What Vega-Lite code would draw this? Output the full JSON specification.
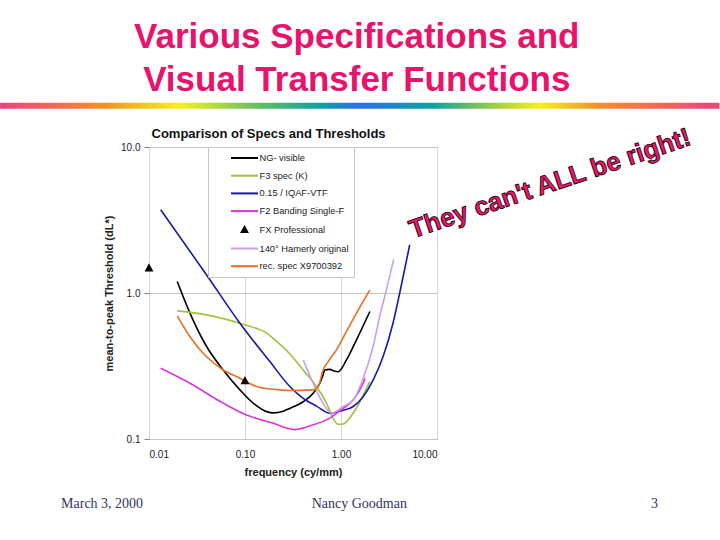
{
  "$schema": "https://vega.github.io/schema/vega-lite/v6.json",
  "width": 288,
  "height": 292,
  "autosize": "none",
  "padding": {"left": 149, "top": 147, "right": 283, "bottom": 101},
  "background": "white",
  "config": {
    "view": {"stroke": "#808080", "strokeWidth": 1},
    "font": "Liberation Sans",
    "legend": {
      "title": null, "orient": "none", "legendX": 59, "legendY": 0, "padding": 5,
      "fillColor": "white", "strokeColor": "#c8c8c8",
      "labelFont": "Liberation Sans", "labelFontSize": 9.3, "labelColor": "#222222",
      "symbolSize": 100, "symbolStrokeWidth": 2, "symbolOffset": 25.5, "labelOffset": 9, "rowPadding": 5.7, "symbolOpacity": 1
    }
  },
  "datasets": {
    "curves": [
      {"series": "NG-   visible", "f": 0.0197, "v": 1.198},
      {"series": "NG-   visible", "f": 0.0267, "v": 0.728},
      {"series": "NG-   visible", "f": 0.0398, "v": 0.430},
      {"series": "NG-   visible", "f": 0.0593, "v": 0.297},
      {"series": "NG-   visible", "f": 0.0885, "v": 0.217},
      {"series": "NG-   visible", "f": 0.1217, "v": 0.176},
      {"series": "NG-   visible", "f": 0.168, "v": 0.154},
      {"series": "NG-   visible", "f": 0.197, "v": 0.151},
      {"series": "NG-   visible", "f": 0.25, "v": 0.155},
      {"series": "NG-   visible", "f": 0.293, "v": 0.162},
      {"series": "NG-   visible", "f": 0.404, "v": 0.180},
      {"series": "NG-   visible", "f": 0.513, "v": 0.206},
      {"series": "NG-   visible", "f": 0.601, "v": 0.241},
      {"series": "NG-   visible", "f": 0.65, "v": 0.275},
      {"series": "NG-   visible", "f": 0.678, "v": 0.297},
      {"series": "NG-   visible", "f": 0.763, "v": 0.300},
      {"series": "NG-   visible", "f": 0.85, "v": 0.292},
      {"series": "NG-   visible", "f": 0.933, "v": 0.289},
      {"series": "NG-   visible", "f": 1.14, "v": 0.348},
      {"series": "NG-   visible", "f": 1.45, "v": 0.478},
      {"series": "NG-   visible", "f": 2.0, "v": 0.747},

      {"series": "F3 spec (K)", "f": 0.0197, "v": 0.754},
      {"series": "F3 spec (K)", "f": 0.0398, "v": 0.708},
      {"series": "F3 spec (K)", "f": 0.0885, "v": 0.621},
      {"series": "F3 spec (K)", "f": 0.1268, "v": 0.577},
      {"series": "F3 spec (K)", "f": 0.1611, "v": 0.5415},
      {"series": "F3 spec (K)", "f": 0.2048, "v": 0.4774},
      {"series": "F3 spec (K)", "f": 0.2933, "v": 0.3826},
      {"series": "F3 spec (K)", "f": 0.4034, "v": 0.2972},
      {"series": "F3 spec (K)", "f": 0.5561, "v": 0.2284},
      {"series": "F3 spec (K)", "f": 0.7066, "v": 0.1757},
      {"series": "F3 spec (K)", "f": 0.8275, "v": 0.1386},
      {"series": "F3 spec (K)", "f": 0.9328, "v": 0.1261},
      {"series": "F3 spec (K)", "f": 1.052, "v": 0.1267},
      {"series": "F3 spec (K)", "f": 1.336, "v": 0.150},
      {"series": "F3 spec (K)", "f": 1.994, "v": 0.247},

      {"series": "0.15 / IQAF-VTF", "f": 0.01324, "v": 3.72},
      {"series": "0.15 / IQAF-VTF", "f": 0.0398, "v": 1.33},
      {"series": "0.15 / IQAF-VTF", "f": 0.0885, "v": 0.621},
      {"series": "0.15 / IQAF-VTF", "f": 0.1815, "v": 0.339},
      {"series": "0.15 / IQAF-VTF", "f": 0.293, "v": 0.229},
      {"series": "0.15 / IQAF-VTF", "f": 0.404, "v": 0.190},
      {"series": "0.15 / IQAF-VTF", "f": 0.556, "v": 0.168},
      {"series": "0.15 / IQAF-VTF", "f": 0.763, "v": 0.150},
      {"series": "0.15 / IQAF-VTF", "f": 1.01, "v": 0.156},
      {"series": "0.15 / IQAF-VTF", "f": 1.34, "v": 0.167},
      {"series": "0.15 / IQAF-VTF", "f": 1.70, "v": 0.195},
      {"series": "0.15 / IQAF-VTF", "f": 2.16, "v": 0.253},
      {"series": "0.15 / IQAF-VTF", "f": 2.74, "v": 0.366},
      {"series": "0.15 / IQAF-VTF", "f": 3.48, "v": 0.621},
      {"series": "0.15 / IQAF-VTF", "f": 4.09, "v": 1.0},
      {"series": "0.15 / IQAF-VTF", "f": 5.2, "v": 2.14},

      {"series": "F2 Banding Single-F", "f": 0.01324, "v": 0.305},
      {"series": "F2 Banding Single-F", "f": 0.0267, "v": 0.241},
      {"series": "F2 Banding Single-F", "f": 0.0593, "v": 0.176},
      {"series": "F2 Banding Single-F", "f": 0.104, "v": 0.146},
      {"series": "F2 Banding Single-F", "f": 0.19, "v": 0.129},
      {"series": "F2 Banding Single-F", "f": 0.33, "v": 0.116},
      {"series": "F2 Banding Single-F", "f": 0.513, "v": 0.125},
      {"series": "F2 Banding Single-F", "f": 0.763, "v": 0.139},
      {"series": "F2 Banding Single-F", "f": 1.05, "v": 0.162},
      {"series": "F2 Banding Single-F", "f": 1.34, "v": 0.185},
      {"series": "F2 Banding Single-F", "f": 1.70, "v": 0.241},
      {"series": "F2 Banding Single-F", "f": 1.78, "v": 0.26},

      {"series": "140° Hamerly original", "f": 0.404, "v": 0.348},
      {"series": "140° Hamerly original", "f": 0.513, "v": 0.241},
      {"series": "140° Hamerly original", "f": 0.65, "v": 0.176},
      {"series": "140° Hamerly original", "f": 0.796, "v": 0.150},
      {"series": "140° Hamerly original", "f": 1.05, "v": 0.167},
      {"series": "140° Hamerly original", "f": 1.34, "v": 0.185},
      {"series": "140° Hamerly original", "f": 1.70, "v": 0.26},
      {"series": "140° Hamerly original", "f": 2.16, "v": 0.43},
      {"series": "140° Hamerly original", "f": 2.53, "v": 0.69},
      {"series": "140° Hamerly original", "f": 2.97, "v": 1.05},
      {"series": "140° Hamerly original", "f": 3.54, "v": 1.70},

      {"series": "rec. spec X9700392", "f": 0.0197, "v": 0.697},
      {"series": "rec. spec X9700392", "f": 0.0267, "v": 0.502},
      {"series": "rec. spec X9700392", "f": 0.0398, "v": 0.366},
      {"series": "rec. spec X9700392", "f": 0.0593, "v": 0.297},
      {"series": "rec. spec X9700392", "f": 0.0885, "v": 0.261},
      {"series": "rec. spec X9700392", "f": 0.132, "v": 0.229},
      {"series": "rec. spec X9700392", "f": 0.197, "v": 0.219},
      {"series": "rec. spec X9700392", "f": 0.293, "v": 0.215},
      {"series": "rec. spec X9700392", "f": 0.513, "v": 0.217},
      {"series": "rec. spec X9700392", "f": 0.58, "v": 0.229},
      {"series": "rec. spec X9700392", "f": 0.65, "v": 0.297},
      {"series": "rec. spec X9700392", "f": 0.735, "v": 0.339},
      {"series": "rec. spec X9700392", "f": 0.898, "v": 0.408},
      {"series": "rec. spec X9700392", "f": 1.14, "v": 0.545},
      {"series": "rec. spec X9700392", "f": 1.45, "v": 0.728},
      {"series": "rec. spec X9700392", "f": 2.0, "v": 1.05}
    ],
    "fx": [
      {"series": "FX Professional", "f": 0.01, "v": 1.48},
      {"series": "FX Professional", "f": 0.1, "v": 0.25}
    ]
  },
  "layer": [
    {
      "data": {"name": "curves"},
      "mark": {"type": "line", "strokeWidth": 1.6, "interpolate": "monotone"},
      "encoding": {
        "x": {
          "field": "f", "type": "quantitative",
          "scale": {"type": "log", "domain": [0.01, 10], "nice": false},
          "axis": {
            "title": "frequency (cy/mm)", "values": [0.01, 0.1, 1, 10], "format": ".2f",
            "grid": true, "gridColor": "#d8d8d8", "ticks": false, "domain": false,
            "labelPadding": 10, "labelFontSize": 10, "labelColor": "#222222", "labelFont": "Liberation Sans",
            "titleFontSize": 11, "titleFontWeight": "bold", "titleColor": "#222222", "titleFont": "Liberation Sans", "titlePadding": 7
          }
        },
        "y": {
          "field": "v", "type": "quantitative",
          "scale": {"type": "log", "domain": [0.1, 10], "nice": false},
          "axis": {
            "title": "mean-to-peak Threshold (dL*)", "values": [0.1, 1, 10], "format": ".1f",
            "grid": true, "gridColor": "#c4c4c4", "ticks": true, "tickSize": 5, "tickColor": "#808080", "domain": false,
            "labelPadding": 4, "labelFontSize": 10, "labelColor": "#222222", "labelFont": "Liberation Sans",
            "titleFontSize": 11, "titleFontWeight": "bold", "titleColor": "#222222", "titleFont": "Liberation Sans", "titlePadding": 6
          }
        },
        "color": {
          "field": "series", "type": "nominal",
          "scale": {
            "domain": ["NG-   visible", "F3 spec (K)", "0.15 / IQAF-VTF", "F2 Banding Single-F", "FX Professional", "140° Hamerly original", "rec. spec X9700392"],
            "range": ["#000000", "#9DC33B", "#1A1AA6", "#DD33DD", "#000000", "#C9A0EC", "#EC6F22"]
          }
        }
      }
    },
    {
      "data": {"name": "fx"},
      "mark": {"type": "point", "filled": false, "fill": "black", "size": 100, "opacity": 1},
      "encoding": {
        "x": {"field": "f", "type": "quantitative"},
        "y": {"field": "v", "type": "quantitative"},
        "color": {"field": "series", "type": "nominal"},
        "shape": {
          "field": "series", "type": "nominal",
          "scale": {
            "domain": ["NG-   visible", "F3 spec (K)", "0.15 / IQAF-VTF", "F2 Banding Single-F", "FX Professional", "140° Hamerly original", "rec. spec X9700392"],
            "range": ["M-2.7,0L2.7,0", "M-2.7,0L2.7,0", "M-2.7,0L2.7,0", "M-2.7,0L2.7,0", "M0,-0.55L0.55,0.45L-0.55,0.45Z", "M-2.7,0L2.7,0", "M-2.7,0L2.7,0"]
          }
        }
      }
    },
    {
      "data": {"values": [{}]},
      "mark": {"type": "rect", "fill": {"gradient": "linear", "x1": 0, "y1": 0, "x2": 1, "y2": 0, "stops": [
        {"offset": 0, "color": "#F0407F"},
        {"offset": 0.145, "color": "#F7902A"},
        {"offset": 0.25, "color": "#F5F020"},
        {"offset": 0.36, "color": "#60C060"},
        {"offset": 0.445, "color": "#10A0A0"},
        {"offset": 0.5, "color": "#2A6FF0"},
        {"offset": 0.6, "color": "#10A0A0"},
        {"offset": 0.69, "color": "#A0D040"},
        {"offset": 0.75, "color": "#F5F020"},
        {"offset": 0.83, "color": "#F7902A"},
        {"offset": 1, "color": "#F0407F"}
      ]}, "strokeWidth": 0},
      "encoding": {
        "x": {"datum": 0.000281, "type": "quantitative"},
        "x2": {"datum": 8747},
        "y": {"datum": 20.12, "type": "quantitative"},
        "y2": {"datum": 18.31}
      }
    },
    {
      "data": {"values": [{}]},
      "mark": {"type": "text", "text": ["Various Specifications and", "Visual Transfer Functions"], "align": "center", "baseline": "alphabetic", "lineHeight": 43, "font": "Liberation Sans", "fontSize": 35, "fontWeight": "bold", "color": "#E8136B"},
      "encoding": {
        "x": {"datum": 1.46, "type": "quantitative"},
        "y": {"datum": 48, "type": "quantitative"}
      }
    },
    {
      "data": {"values": [{}]},
      "mark": {"type": "text", "text": "Comparison of Specs and Thresholds", "align": "left", "baseline": "middle", "font": "Liberation Sans", "fontSize": 13, "fontWeight": "bold", "color": "#111111"},
      "encoding": {
        "x": {"datum": 0.01062, "type": "quantitative"},
        "y": {"datum": 12.33, "type": "quantitative"}
      }
    },
    {
      "data": {"values": [{}]},
      "mark": {"type": "text", "text": "They can't ALL be right!", "angle": 341.4, "align": "center", "baseline": "middle", "font": "Liberation Sans", "fontSize": 26, "fontWeight": "bold", "color": "#F0146C", "stroke": "black", "strokeWidth": 0.8},
      "encoding": {
        "x": {"datum": 150.6, "type": "quantitative"},
        "y": {"datum": 5.6, "type": "quantitative"}
      }
    },
    {
      "data": {"values": [{}]},
      "mark": {"type": "text", "text": "March 3, 2000", "align": "left", "baseline": "middle", "font": "Liberation Serif", "fontSize": 14, "color": "#333366"},
      "encoding": {
        "x": {"datum": 0.001214, "type": "quantitative"},
        "y": {"datum": 0.0358, "type": "quantitative"}
      }
    },
    {
      "data": {"values": [{}]},
      "mark": {"type": "text", "text": "Nancy Goodman", "align": "center", "baseline": "middle", "font": "Liberation Serif", "fontSize": 14, "color": "#333366"},
      "encoding": {
        "x": {"datum": 1.55, "type": "quantitative"},
        "y": {"datum": 0.0358, "type": "quantitative"}
      }
    },
    {
      "data": {"values": [{}]},
      "mark": {"type": "text", "text": "3", "align": "center", "baseline": "middle", "font": "Liberation Serif", "fontSize": 14, "color": "#333366"},
      "encoding": {
        "x": {"datum": 1842, "type": "quantitative"},
        "y": {"datum": 0.0358, "type": "quantitative"}
      }
    }
  ]
}
